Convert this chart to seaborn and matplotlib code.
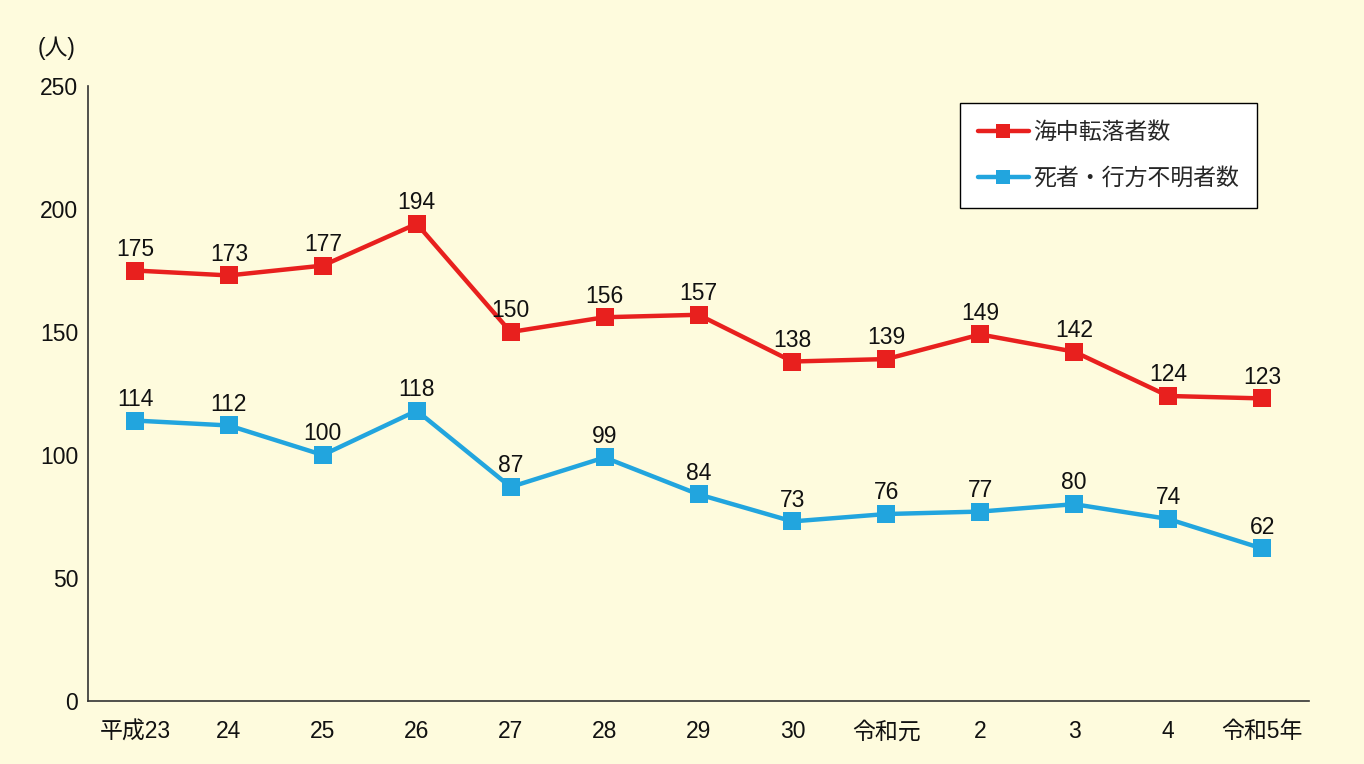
import pandas as pd
import matplotlib
matplotlib.use('Agg')
import matplotlib.pyplot as plt
import seaborn as sns

# --- data ---
years = ['平成23', '24', '25', '26', '27', '28', '29', '30', '令和元', '2', '3', '4', '令和5年']
fallen = [175, 173, 177, 194, 150, 156, 157, 138, 139, 149, 142, 124, 123]
dead_missing = [114, 112, 100, 118, 87, 99, 84, 73, 76, 77, 80, 74, 62]
series_names = ['海中転落者数', '死者・行方不明者数']
colors = ['#E8201E', '#22A5DE']

df = pd.DataFrame({
    'pos': list(range(len(years))) * 2,
    'value': fallen + dead_missing,
    'series': [series_names[0]] * len(years) + [series_names[1]] * len(years),
})

sns.set_style('white')
plt.rcParams['font.family'] = ['Liberation Sans', 'Noto Sans CJK JP', 'DejaVu Sans']
bg = '#FEFBDD'
fs = 16.5

fig = plt.figure(figsize=(13.64, 7.64), dpi=100, facecolor=bg)
ax = fig.add_axes([0.0645, 0.0825, 0.8952, 0.8049])
ax.set_facecolor(bg)

sns.lineplot(data=df, x='pos', y='value', hue='series', palette=colors,
             marker='s', markersize=13, markeredgewidth=0, linewidth=3.2,
             ax=ax, legend=True)

# data labels
for vals in (fallen, dead_missing):
    for i, v in enumerate(vals):
        ax.annotate(str(v), (i, v), xytext=(0, 7), textcoords='offset points',
                    ha='center', va='bottom', fontsize=fs, color='#111111')

ax.set_xlim(-0.5, len(years) - 0.5)
ax.set_ylim(0, 250)
ax.set_yticks(range(0, 251, 50))
ax.set_yticklabels([str(t) for t in range(0, 251, 50)], fontsize=fs)

# category labels centred, tick marks on boundaries
ax.set_xticks([i + 0.5 for i in range(len(years))])
ax.set_xticklabels([])
ax.set_xticks(range(len(years)), minor=True)
ax.set_xticklabels(years, minor=True, fontsize=fs)
ax.tick_params(axis='x', which='minor', length=0, pad=14, labelcolor='#111111')
ax.tick_params(axis='x', which='major', direction='in', length=6, color='#444444')
ax.tick_params(axis='y', direction='in', length=5, color='#444444', pad=7,
               labelcolor='#111111')
ax.set_xlabel('')
ax.set_ylabel('')

for s in ['top', 'right']:
    ax.spines[s].set_visible(False)
for s in ['left', 'bottom']:
    ax.spines[s].set_color('#333333')
    ax.spines[s].set_linewidth(1.2)

ax.text(-0.041, 1.062, '(人)', transform=ax.transAxes, fontsize=fs, ha='left',
        va='center', color='#111111')

leg = ax.legend(loc='upper left', bbox_to_anchor=(0.714, 0.973), fontsize=fs,
                frameon=True, fancybox=False, edgecolor='black', facecolor='white',
                framealpha=1, handlelength=2.2, labelspacing=1.0, borderpad=0.8,
                handletextpad=0.2, borderaxespad=0)
leg.get_frame().set_linewidth(1.0)
for h in leg.legend_handles:
    h.set_markersize(10)

fig.savefig('out.png', dpi=100, facecolor=bg)
